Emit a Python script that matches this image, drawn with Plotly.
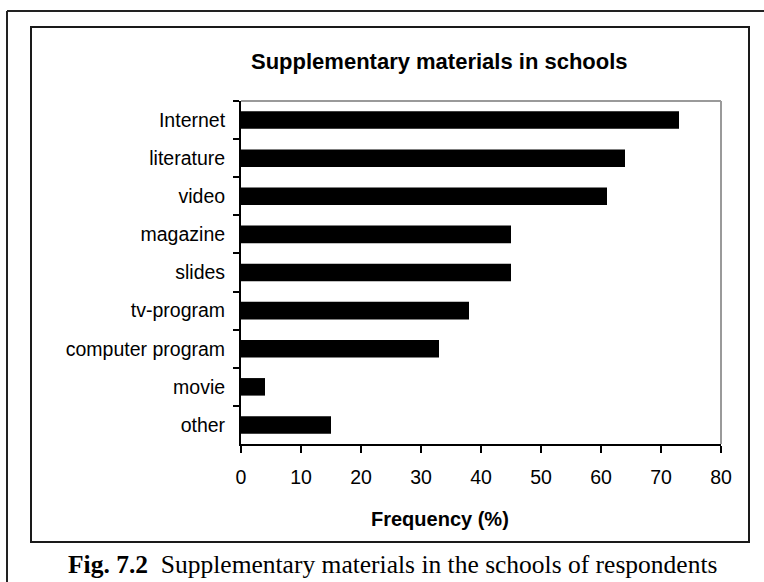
import plotly.graph_objects as go

categories = ["Internet", "literature", "video", "magazine", "slides",
              "tv-program", "computer program", "movie", "other"]
frequency = [73, 64, 61, 45, 45, 38, 33, 4, 15]
x_ticks = [0, 10, 20, 30, 40, 50, 60, 70, 80]

chart_title = "Supplementary materials in schools"
x_title = "Frequency (%)"
caption_bold = "Fig. 7.2"
caption_text = "Supplementary materials in the schools of respondents"

W, H = 764, 582
L, R, T, B = 241, 721, 101, 444  # plot area in pixels


def px(x):
    return (x - L) / (R - L)


def py(y):
    return (B - y) / (B - T)


SANS = "Liberation Sans, Arial, sans-serif"
SERIF = "Liberation Serif, Times New Roman, serif"

fig = go.Figure(go.Bar(
    x=frequency, y=categories, orientation="h",
    marker=dict(color="black", line=dict(width=0)),
))

fig.update_layout(
    width=W, height=H,
    margin=dict(l=L, r=W - R, t=T, b=H - B, pad=0),
    paper_bgcolor="white", plot_bgcolor="white",
    bargap=0.54, showlegend=False,
    font=dict(family=SANS, size=19, color="black"),
)

fig.update_xaxes(
    range=[0, 80], tickvals=x_ticks, showgrid=False, zeroline=False,
    showline=True, linecolor="black", linewidth=2,
    ticks="outside", ticklen=7, tickwidth=1.5, tickcolor="black",
    tickfont=dict(family=SANS, size=19.5, color="black"),
    ticklabelstandoff=8,
)
fig.update_yaxes(
    categoryorder="array", categoryarray=categories, autorange="reversed",
    showgrid=False, zeroline=False,
    showline=True, linecolor="black", linewidth=2,
    ticks="outside", ticklen=6, tickwidth=1.5, tickcolor="black",
    tickson="boundaries",
    tickfont=dict(family=SANS, size=19.5, color="black"),
    ticklabelstandoff=10,
)

shapes = [
    # gray top and right borders of plot area
    dict(type="line", xref="x domain", yref="y domain", x0=0, x1=1, y0=1, y1=1,
         line=dict(color="#9a9a9a", width=2)),
    dict(type="line", xref="x domain", yref="y domain", x0=1, x1=1, y0=0, y1=1,
         line=dict(color="#9a9a9a", width=2)),
    # inner chart box
    dict(type="rect", xref="paper", yref="paper",
         x0=px(31), x1=px(749), y0=py(542), y1=py(27),
         line=dict(color="#1a1a1a", width=2), fillcolor="rgba(0,0,0,0)", layer="below"),
    # outer frame (left and top lines)
    dict(type="line", xref="paper", yref="paper",
         x0=px(7), x1=px(7), y0=py(11), y1=py(600),
         line=dict(color="#222222", width=2)),
    dict(type="line", xref="paper", yref="paper",
         x0=px(7), x1=px(800), y0=py(11), y1=py(11),
         line=dict(color="#222222", width=2)),
]
fig.update_layout(shapes=shapes)

annotations = [
    dict(text=f"<b>{chart_title}</b>", xref="paper", yref="paper",
         x=px(439), y=py(61), xanchor="center", yanchor="middle", showarrow=False,
         font=dict(family=SANS, size=22, color="black")),
    dict(text=f"<b>{x_title}</b>", xref="paper", yref="paper",
         x=px(440), y=py(519), xanchor="center", yanchor="middle", showarrow=False,
         font=dict(family=SANS, size=20, color="black")),
    dict(text=f"<b>{caption_bold}</b> \u00a0{caption_text}", xref="paper", yref="paper",
         x=px(66), y=py(564), xanchor="left", yanchor="middle", showarrow=False,
         font=dict(family=SERIF, size=25.5, color="black")),
]
fig.update_layout(annotations=annotations)

fig.write_html("out.html")
